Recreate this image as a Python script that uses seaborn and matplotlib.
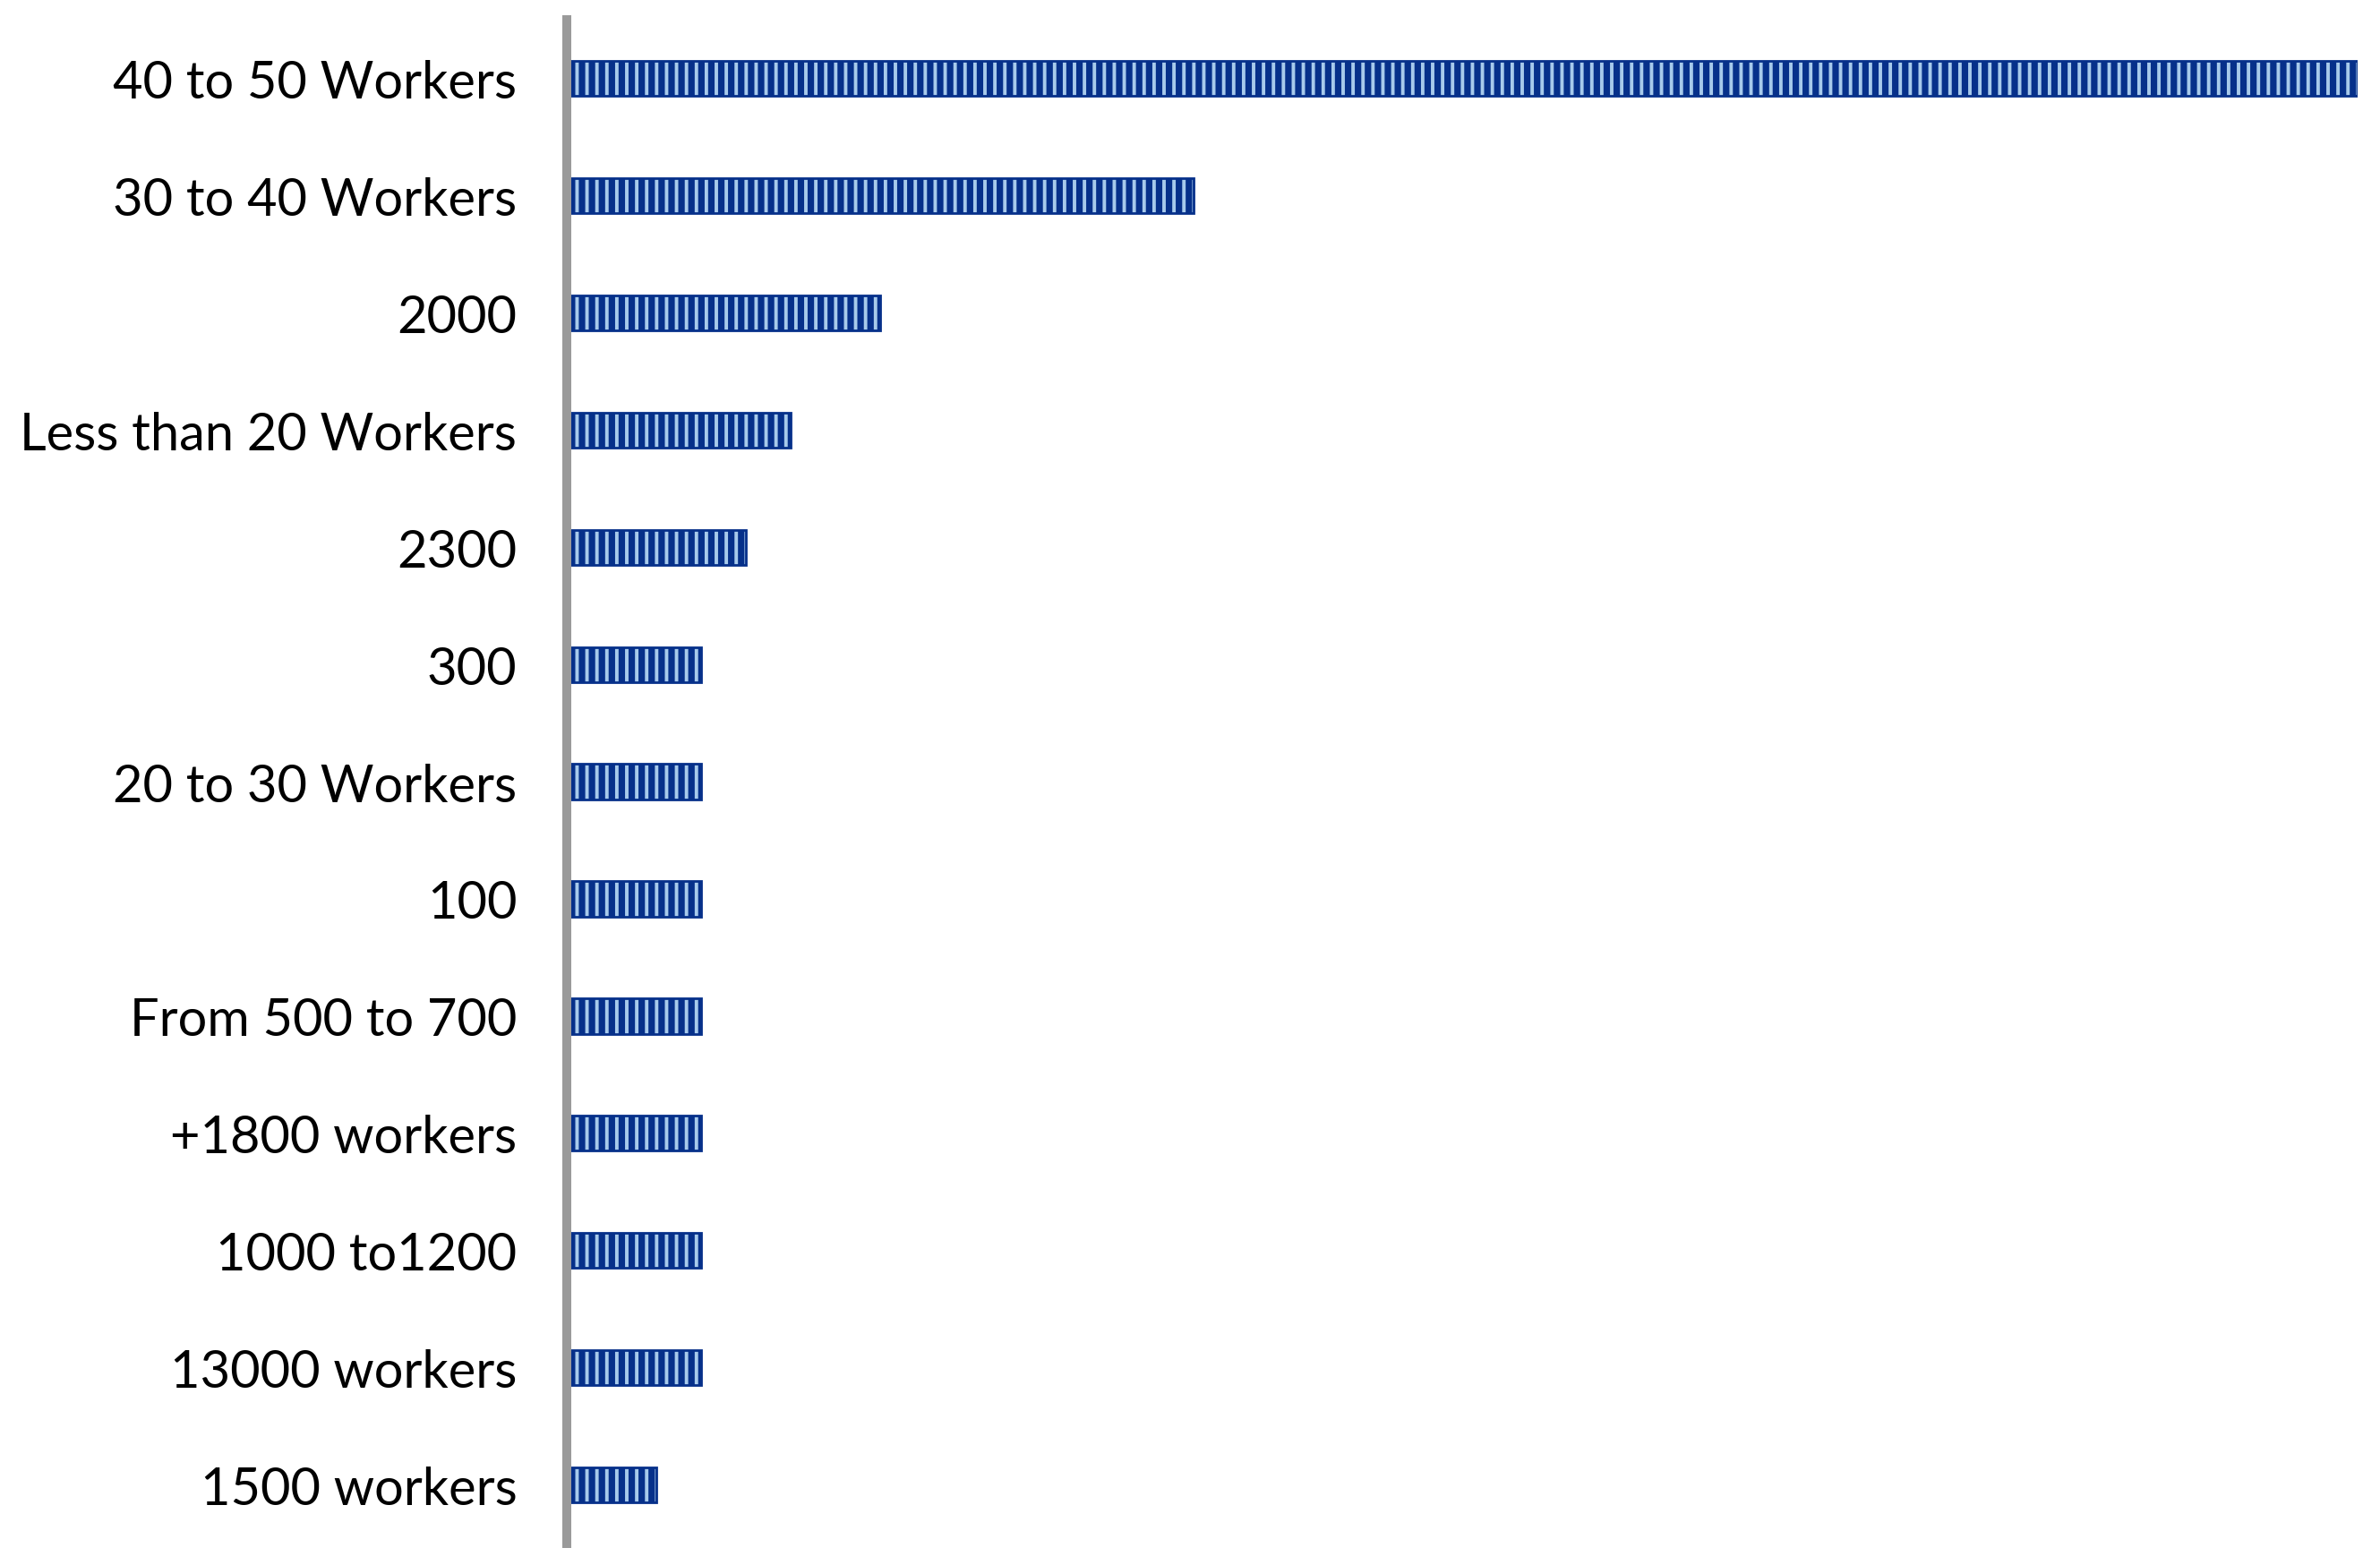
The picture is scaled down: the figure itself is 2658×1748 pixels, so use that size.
import matplotlib
matplotlib.use("Agg")
import matplotlib.pyplot as plt
import seaborn as sns

# Data (counts)
categories = ["40 to 50 Workers", "30 to 40 Workers", "2000", "Less than 20 Workers",
              "2300", "300", "20 to 30 Workers", "100", "From 500 to 700",
              "+1800 workers", "1000 to1200", "13000 workers", "1500 workers"]
values = [40, 14, 7, 5, 4, 3, 3, 3, 3, 3, 3, 3, 2]

sns.set_style("white")
plt.rcParams["font.family"] = ["Lato", "DejaVu Sans"]
plt.rcParams["hatch.linewidth"] = 2.6

fig = plt.figure(figsize=(13.29, 8.745), dpi=200)
ax = fig.add_axes([0.2381, 0.0137, 0.7524, 0.9731])

sns.barplot(x=values, y=categories, orient="h", color="#9ccaf6", width=0.3,
            edgecolor="#06308a", linewidth=1.0, ax=ax)
for p in ax.patches:
    p.set_hatch("|||")

ax.set_xlim(0, 40)
ax.set_ylim(len(categories) - 0.5, -0.5)
ax.set_xlabel("")
ax.set_ylabel("")
ax.set_xticks([])
ax.tick_params(axis="y", length=0, pad=20, labelsize=20.8, labelcolor="black")

for side in ["top", "right", "bottom"]:
    ax.spines[side].set_visible(False)
ax.spines["left"].set_color("#9a9a9a")
ax.spines["left"].set_linewidth(3.6)

fig.savefig("out.png", dpi=200)
